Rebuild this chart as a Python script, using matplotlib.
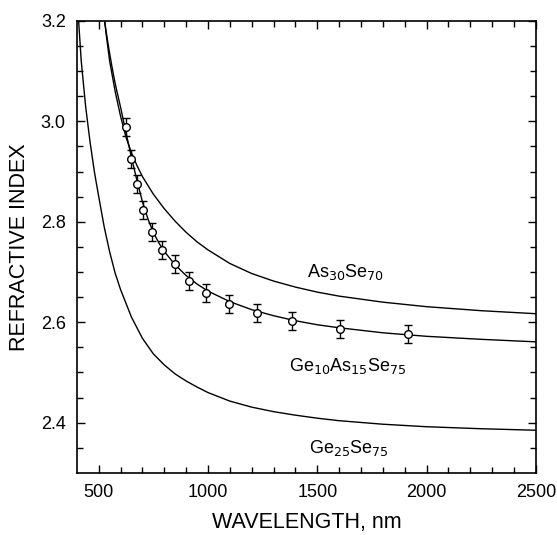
import numpy as np
import matplotlib
matplotlib.use("Agg")
from matplotlib import pyplot as plt

plt.rcParams['font.family'] = ['Liberation Sans', 'DejaVu Sans']

# measured points, Ge10As15Se75
wl_meas = [624, 646, 673, 703, 743, 790, 848, 912, 993, 1095, 1222, 1385, 1603, 1916]
n_meas = [2.989, 2.925, 2.875, 2.823, 2.779, 2.744, 2.716, 2.683, 2.659, 2.637,
          2.619, 2.603, 2.587, 2.576]
n_err = [0.018] * len(wl_meas)

# fitted curves
wl_ge10 = [520, 530, 540, 550, 560, 570, 580, 590, 600, 625, 650, 675, 700, 725, 750,
           775, 800, 850, 900, 950, 1000, 1100, 1200, 1300, 1400, 1500, 1600, 1800,
           2000, 2250, 2500]
n_ge10 = [3.22, 3.19, 3.162, 3.135, 3.11, 3.087, 3.066, 3.047, 3.028, 2.977, 2.928,
          2.882, 2.84, 2.806, 2.779, 2.758, 2.741, 2.714, 2.693, 2.676, 2.662, 2.641,
          2.625, 2.613, 2.603, 2.595, 2.589, 2.579, 2.572, 2.566, 2.561]

wl_as = [522, 535, 550, 575, 600, 625, 650, 675, 700, 750, 800, 850, 900, 950, 1000,
         1100, 1200, 1300, 1400, 1500, 1600, 1800, 2000, 2250, 2500]
n_as = [3.22, 3.17, 3.12, 3.06, 3.01, 2.968, 2.937, 2.912, 2.89, 2.855, 2.826, 2.801,
        2.779, 2.76, 2.744, 2.717, 2.697, 2.682, 2.67, 2.66, 2.652, 2.64, 2.631, 2.623,
        2.617]

wl_ge25 = [405, 420, 440, 460, 480, 500, 525, 550, 575, 600, 650, 700, 750, 800, 850,
           900, 950, 1000, 1100, 1200, 1300, 1400, 1500, 1600, 1800, 2000, 2250, 2500]
n_ge25 = [3.22, 3.12, 3.03, 2.96, 2.9, 2.85, 2.79, 2.74, 2.698, 2.665, 2.61, 2.568,
          2.537, 2.515, 2.497, 2.483, 2.471, 2.46, 2.443, 2.431, 2.422, 2.415, 2.409,
          2.404, 2.397, 2.392, 2.388, 2.385]

fig = plt.figure(figsize=(5.57, 5.35), dpi=100)
ax = fig.add_axes([0.138, 0.116, 0.824, 0.845])

ax.plot(wl_ge10, n_ge10, color='black', lw=1.0)
ax.plot(wl_as, n_as, color='black', lw=1.0)
ax.plot(wl_ge25, n_ge25, color='black', lw=1.0)
ax.errorbar(wl_meas, n_meas, yerr=n_err, fmt='o', mfc='white', mec='black',
            ms=5.5, mew=1.0, ecolor='black', elinewidth=1.0, capsize=2.6, capthick=1.0,
            zorder=3)

ax.text(1630, 2.700, 'As$_{30}$Se$_{70}$', fontsize=13, ha='center', va='center')
ax.text(1640, 2.513, 'Ge$_{10}$As$_{15}$Se$_{75}$', fontsize=13, ha='center', va='center')
ax.text(1644, 2.350, 'Ge$_{25}$Se$_{75}$', fontsize=13, ha='center', va='center')

ax.set_xlim(400, 2500)
ax.set_ylim(2.3, 3.2)
ax.set_xticks([500, 1000, 1500, 2000, 2500])
ax.set_xticks(np.arange(500, 2500, 100), minor=True)
ax.set_yticks([2.4, 2.6, 2.8, 3.0, 3.2])
ax.set_yticklabels(['2.4', '2.6', '2.8', '3.0', '3.2'])
ax.set_yticks(np.arange(2.35, 3.2, 0.05), minor=True)
ax.tick_params(which='both', direction='in', top=True, right=True, labelsize=13,
               width=1.0)
ax.tick_params(which='major', length=6, pad=8)
ax.tick_params(which='minor', length=4)
for s in ax.spines.values():
    s.set_linewidth(1.2)

ax.set_xlabel('WAVELENGTH, nm', fontsize=15.5, labelpad=8)
ax.set_ylabel('REFRACTIVE INDEX', fontsize=15.5, labelpad=8)

fig.savefig('out.png', dpi=100)
